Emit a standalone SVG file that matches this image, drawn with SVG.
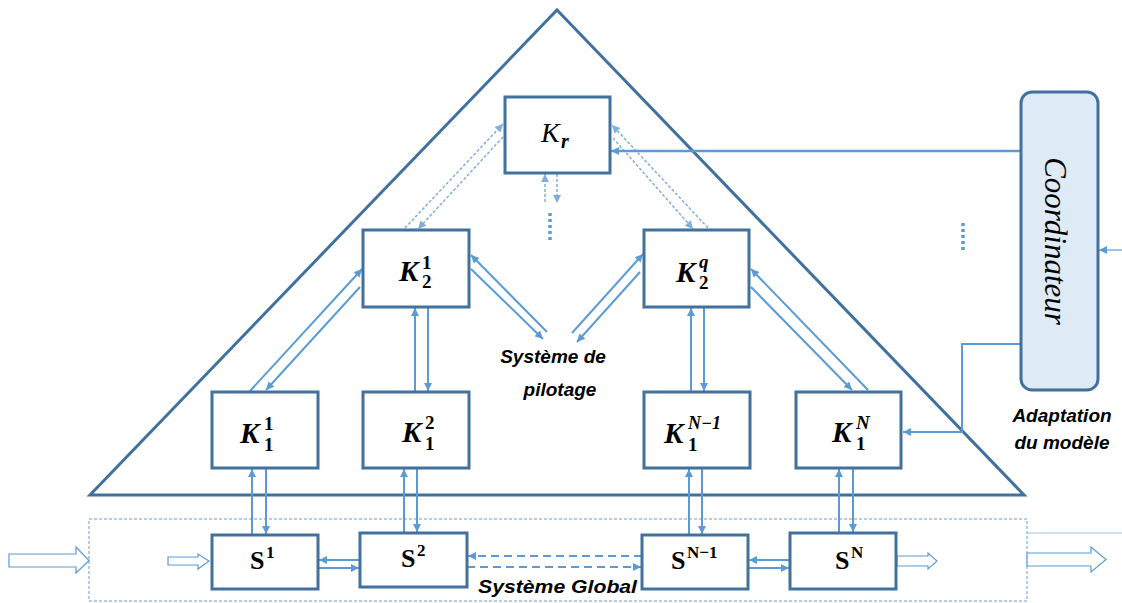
<svg xmlns="http://www.w3.org/2000/svg" width="1122" height="603" viewBox="0 0 1122 603">
<style>
.box{fill:#fff;stroke:#41719C;stroke-width:3}
.tri{fill:none;stroke:#41719C;stroke-width:3}
.c{fill:none;stroke:#5B9BD5;stroke-width:2}
.cd{fill:none;stroke:#7FAEDC;stroke-width:1.5;stroke-dasharray:3 2}
.cdash{fill:none;stroke:#5B9BD5;stroke-width:2;stroke-dasharray:8 5}
.dots{fill:none;stroke:#5B9BD5;stroke-width:3.5;stroke-dasharray:3 3}
.hollow{fill:#fff;stroke:#5B9BD5;stroke-width:1.2}
.m{font-family:"Liberation Serif","DejaVu Serif",serif;fill:#000}
.mb{font-family:"Liberation Serif","DejaVu Serif",serif;font-weight:bold;font-style:italic;fill:#000}
.sb{font-family:"Liberation Serif","DejaVu Serif",serif;font-weight:bold;fill:#000}
.lbl{font-family:"Liberation Sans","Open Sans",sans-serif;font-weight:bold;font-style:italic;fill:#000;font-size:19px}
</style>
<defs>
<marker id="ah" viewBox="0 0 10 10" refX="10" refY="5" markerWidth="9" markerHeight="8" markerUnits="userSpaceOnUse" orient="auto"><path d="M0,0 L10,5 L0,10 z" fill="#5B9BD5"/></marker>
<marker id="ahl" viewBox="0 0 10 10" refX="10" refY="5" markerWidth="9" markerHeight="8" markerUnits="userSpaceOnUse" orient="auto"><path d="M0,0 L10,5 L0,10 z" fill="#7FAEDC"/></marker>
</defs>

<g id="pilotage-triangle">
<path class="tri" d="M557,10 L1024,495 L90,495 Z"/>
</g>

<g id="systeme-global">
<rect x="89" y="519" width="938" height="82" fill="none" stroke="#6A9ACF" stroke-width="1" stroke-dasharray="3 2"/>
<text class="lbl" x="478" y="593" font-size="20" textLength="159" lengthAdjust="spacingAndGlyphs">Système Global</text>
</g>

<g id="connectors">
<line class="cd" x1="545" y1="202" x2="545" y2="174" marker-end="url(#ahl)"/>
<line class="cd" x1="557" y1="174" x2="557" y2="203" marker-end="url(#ahl)"/>
<line class="dots" x1="550" y1="213" x2="550" y2="243"/>
<line class="dots" x1="963" y1="223" x2="963" y2="253"/>
<line class="cd" x1="405" y1="228" x2="503" y2="124" marker-end="url(#ahl)"/>
<line class="cd" x1="503" y1="137" x2="418" y2="229" marker-end="url(#ahl)"/>
<line class="cd" x1="708" y1="228" x2="612" y2="125" marker-end="url(#ahl)"/>
<line class="cd" x1="613" y1="138" x2="693" y2="229" marker-end="url(#ahl)"/>
<line class="c" x1="250" y1="391" x2="362" y2="269" marker-end="url(#ah)"/>
<line class="c" x1="360" y1="287" x2="266" y2="390" marker-end="url(#ah)"/>
<line class="c" x1="547" y1="332" x2="471" y2="255" marker-end="url(#ah)"/>
<line class="c" x1="471" y1="269" x2="543" y2="339" marker-end="url(#ah)"/>
<line class="c" x1="572" y1="333" x2="643" y2="254" marker-end="url(#ah)"/>
<line class="c" x1="640" y1="272" x2="577" y2="342" marker-end="url(#ah)"/>
<line class="c" x1="868" y1="390" x2="751" y2="269" marker-end="url(#ah)"/>
<line class="c" x1="751" y1="287" x2="852" y2="390" marker-end="url(#ah)"/>
<line class="c" x1="415" y1="392" x2="415" y2="308" marker-end="url(#ah)"/>
<line class="c" x1="428" y1="308" x2="428" y2="391" marker-end="url(#ah)"/>
<line class="c" x1="691" y1="392" x2="691" y2="308" marker-end="url(#ah)"/>
<line class="c" x1="704" y1="308" x2="704" y2="391" marker-end="url(#ah)"/>
<line class="c" x1="252" y1="535" x2="252" y2="469" marker-end="url(#ah)"/>
<line class="c" x1="266" y1="469" x2="266" y2="534" marker-end="url(#ah)"/>
<line class="c" x1="404" y1="533" x2="404" y2="469" marker-end="url(#ah)"/>
<line class="c" x1="417" y1="469" x2="417" y2="532" marker-end="url(#ah)"/>
<line class="c" x1="689" y1="535" x2="689" y2="469" marker-end="url(#ah)"/>
<line class="c" x1="702" y1="469" x2="702" y2="534" marker-end="url(#ah)"/>
<line class="c" x1="839" y1="533" x2="839" y2="469" marker-end="url(#ah)"/>
<line class="c" x1="853" y1="469" x2="853" y2="532" marker-end="url(#ah)"/>
<line class="c" x1="360" y1="560" x2="319" y2="560" marker-end="url(#ah)"/>
<line class="c" x1="318" y1="568" x2="359" y2="568" marker-end="url(#ah)"/>
<line class="cdash" x1="642" y1="556" x2="468" y2="556" marker-end="url(#ah)"/>
<line class="cdash" x1="467" y1="567" x2="641" y2="567" marker-end="url(#ah)"/>
<line class="c" x1="790" y1="560" x2="749" y2="560" marker-end="url(#ah)"/>
<line class="c" x1="748" y1="568" x2="789" y2="568" marker-end="url(#ah)"/>
<line x1="1021" y1="151" x2="611" y2="151" stroke="#5B9BD5" stroke-width="2.5" marker-end="url(#ah)"/>
<path class="c" d="M1021,344 H962 V432 H903" marker-end="url(#ah)"/>
<line x1="1122" y1="250" x2="1099" y2="250" stroke="#5B9BD5" stroke-width="1.2" marker-end="url(#ah)"/>
<line x1="1027" y1="533" x2="1122" y2="533" stroke="#9DC3E6" stroke-width="1.2"/>
<path class="hollow" d="M9,554 H76 V547 L89,560.5 L76,573 V567 H9 Z"/>
<path class="hollow" d="M168,557 H198 V554 L209,561 L198,569 V565 H168 Z"/>
<path class="hollow" d="M897,556 H928 V553 L937,561 L928,569 V566 H897 Z"/>
<path class="hollow" d="M1027,553 H1091 V547 L1106,559.5 L1091,572 V566 H1027 Z"/>
</g>

<g id="Kr">
<rect class="box" x="505" y="97" width="105" height="76"/>
<text class="m" x="541" y="142" font-size="28" font-style="italic">K</text>
<text class="mb" x="561" y="148" font-size="20">r</text>
</g>

<g id="K2-1">
<rect class="box" x="363" y="230" width="106" height="77"/>
<text class="mb" x="399" y="281" font-size="29">K</text>
<text class="sb" x="422" y="269" font-size="19">1</text>
<text class="sb" x="422" y="288" font-size="19">2</text>
</g>

<g id="K2-q">
<rect class="box" x="644" y="230" width="105" height="77"/>
<text class="mb" x="676" y="282" font-size="29">K</text>
<text class="mb" x="699" y="268" font-size="19">q</text>
<text class="sb" x="699" y="289" font-size="19">2</text>
</g>

<g id="K1-1">
<rect class="box" x="212" y="392" width="106" height="76"/>
<text class="mb" x="240" y="443" font-size="29">K</text>
<text class="sb" x="264" y="430" font-size="19">1</text>
<text class="sb" x="264" y="451" font-size="19">1</text>
</g>

<g id="K1-2">
<rect class="box" x="363" y="392" width="106" height="76"/>
<text class="mb" x="402" y="442" font-size="29">K</text>
<text class="sb" x="425" y="429" font-size="19">2</text>
<text class="sb" x="425" y="450" font-size="19">1</text>
</g>

<g id="K1-N-1">
<rect class="box" x="644" y="392" width="106" height="76"/>
<text class="mb" x="664" y="443" font-size="29">K</text>
<text class="mb" x="688" y="429" font-size="18">N−1</text>
<text class="sb" x="688" y="451" font-size="19">1</text>
</g>

<g id="K1-N">
<rect class="box" x="796" y="392" width="105" height="76"/>
<text class="mb" x="832" y="442" font-size="29">K</text>
<text class="mb" x="856" y="429" font-size="19">N</text>
<text class="sb" x="856" y="450" font-size="19">1</text>
</g>

<g id="S1">
<rect class="box" x="212" y="535" width="106" height="54"/>
<text class="sb" x="250" y="569" font-size="26">S</text>
<text class="sb" x="266" y="558" font-size="17">1</text>
</g>

<g id="S2">
<rect class="box" x="360" y="533" width="107" height="54"/>
<text class="sb" x="401" y="567" font-size="26">S</text>
<text class="sb" x="417" y="556" font-size="17">2</text>
</g>

<g id="SN-1">
<rect class="box" x="642" y="535" width="106" height="54"/>
<text class="sb" x="671" y="569" font-size="26">S</text>
<text class="sb" x="687" y="558" font-size="17">N−1</text>
</g>

<g id="SN">
<rect class="box" x="790" y="533" width="106" height="56"/>
<text class="sb" x="835" y="569" font-size="26">S</text>
<text class="sb" x="851" y="558" font-size="17">N</text>
</g>

<g id="coordinateur">
<rect x="1021" y="92" width="77" height="298" rx="11" fill="#DEEAF6" stroke="#41719C" stroke-width="3"/>
<text transform="translate(1045,241) rotate(90)" text-anchor="middle" font-family="Liberation Serif, DejaVu Serif, serif" font-style="italic" font-size="31" fill="#000">Coordinateur</text>
</g>

<g id="labels">
<text class="lbl" x="553" y="363" text-anchor="middle">Système de</text>
<text class="lbl" x="560" y="396" text-anchor="middle">pilotage</text>
<text class="lbl" x="1062" y="422" text-anchor="middle" font-size="20">Adaptation</text>
<text class="lbl" x="1062" y="449" text-anchor="middle" font-size="20">du modèle</text>
</g>
</svg>
